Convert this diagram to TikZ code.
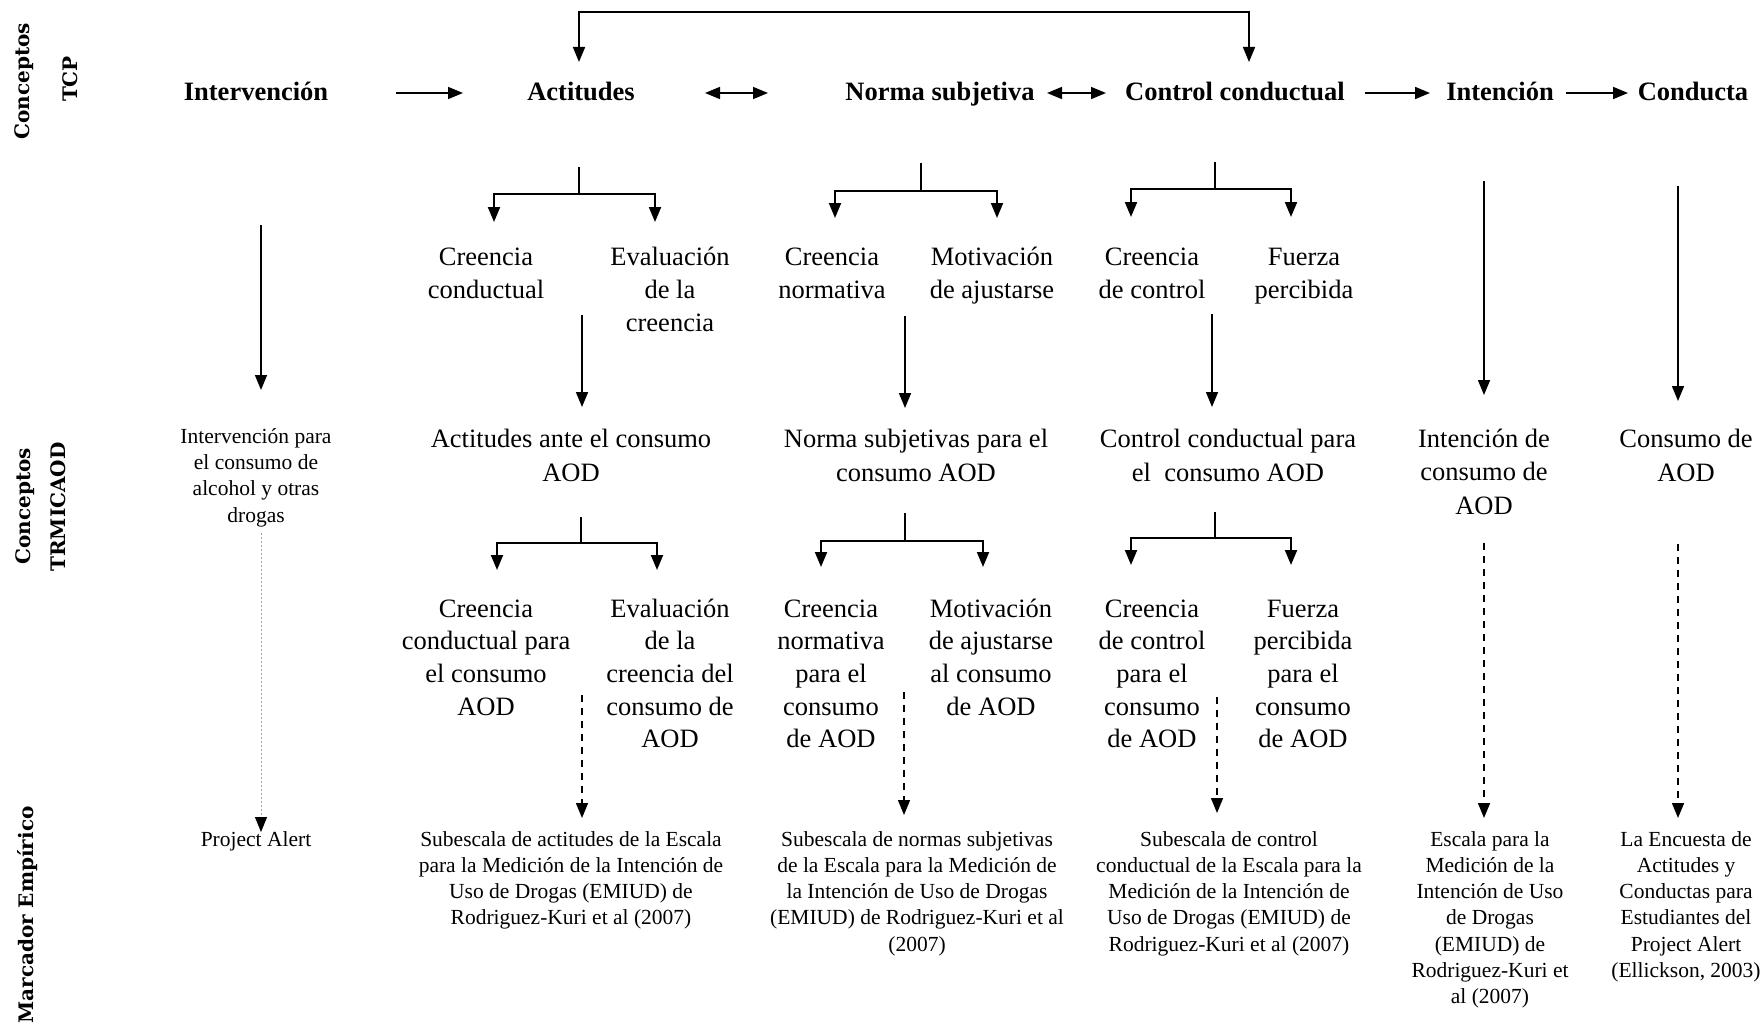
\documentclass[tikz,border=0pt]{standalone}
\usepackage{fontspec}
\setmainfont{Liberation Serif}
\newfontfamily\sidefont{DejaVu Serif}
\usetikzlibrary{arrows.meta}
\begin{document}
\begin{tikzpicture}[x=1pt,y=-1pt,
  lbl/.style={font=\fontsize{26.5}{33}\selectfont, align=center, inner sep=0pt, anchor=base},
  sml/.style={font=\fontsize{21.5}{26.3}\selectfont, align=center, inner sep=0pt, anchor=base},
  hd/.style={font=\bfseries\fontsize{26.5}{33}\selectfont, inner sep=0pt, anchor=base},
  side/.style={font=\sidefont\bfseries\fontsize{20}{24}\selectfont, rotate=90, inner sep=0pt, anchor=center},
  tip/.style={-{Triangle[length=15pt,width=12pt]}},
  ar/.style={tip, line width=1.6pt},
  dbl/.style={{Triangle[length=15pt,width=12pt]}-{Triangle[length=15pt,width=12pt]}, line width=1.6pt},
  brk/.style={tip, line width=2pt},
  dar/.style={tip, line width=1.5pt, dash pattern=on 7pt off 6pt},
  dot/.style={-{Triangle[length=15pt,width=12pt,color=black]}, line width=1pt, gray!75, dash pattern=on 2pt off 2pt}]
\useasboundingbox (0,0) rectangle (1763,1033);

% side labels
\node[side] (s1a) at (24,81) {Conceptos};
\node[side] (s1b) at (70,79) {TCP};
\node[side] (s2a) at (25,506) {Conceptos};
\node[side] (s2b) at (58,507) {TRMICAOD};
\node[side] (s3) at (28,915) {Marcador Empírico};

% top row
\node[hd] (iv) at (256,100) {Intervención};
\node[hd] (act) at (581,100) {Actitudes};
\node[hd] (ns) at (940,100) {Norma subjetiva};
\node[hd] (cc) at (1235,100) {Control conductual};
\node[hd] (int) at (1500,100) {Intención};
\node[hd] (con) at (1693,100) {Conducta};

\coordinate (h1a) at (396,93); \coordinate (h1b) at (463,93);
\coordinate (h2a) at (705,93); \coordinate (h2b) at (768,93);
\coordinate (h3a) at (1047,93); \coordinate (h3b) at (1106,93);
\coordinate (h4a) at (1365,93); \coordinate (h4b) at (1430,93);
\coordinate (h5a) at (1566,93); \coordinate (h5b) at (1628,93);
\draw[ar] (h1a) -- (h1b);
\draw[dbl] (h2a) -- (h2b);
\draw[dbl] (h3a) -- (h3b);
\draw[ar] (h4a) -- (h4b);
\draw[ar] (h5a) -- (h5b);

% top bracket
\coordinate (b1) at (579,62); \coordinate (b2) at (1249,62);
\draw[dbl] (b1) -- ++(0,-50) -| (b2);

% row 2 trees
\coordinate (t1s) at (579,167); \coordinate (t1l) at (494,222); \coordinate (t1r) at (655,222);
\draw[brk] (t1s) -- ++(0,27) -| (t1l);
\draw[brk] (t1s) -- ++(0,27) -| (t1r);
\coordinate (t2s) at (921,163); \coordinate (t2l) at (835,218); \coordinate (t2r) at (997,218);
\draw[brk] (t2s) -- ++(0,28) -| (t2l);
\draw[brk] (t2s) -- ++(0,28) -| (t2r);
\coordinate (t3s) at (1215,162); \coordinate (t3l) at (1131,217); \coordinate (t3r) at (1291,217);
\draw[brk] (t3s) -- ++(0,27) -| (t3l);
\draw[brk] (t3s) -- ++(0,27) -| (t3r);

% row 2 labels (anchor = baseline of last line)
\node[lbl] (cb) at (486,298) {Creencia\\conductual};
\node[lbl] (ec) at (670,331) {Evaluación\\de la\\creencia};
\node[lbl] (cn) at (832,298) {Creencia\\normativa};
\node[lbl] (ma) at (992,298) {Motivación\\de ajustarse};
\node[lbl] (cdc) at (1152,298) {Creencia\\de control};
\node[lbl] (fp) at (1304,298) {Fuerza\\percibida};

% long arrows
\coordinate (v1a) at (261,225); \coordinate (v1b) at (261,390);
\coordinate (v2a) at (582,315); \coordinate (v2b) at (582,407);
\coordinate (v3a) at (905,316); \coordinate (v3b) at (905,408);
\coordinate (v4a) at (1212,314); \coordinate (v4b) at (1212,407);
\coordinate (v5a) at (1484,181); \coordinate (v5b) at (1484,395);
\coordinate (v6a) at (1678,186); \coordinate (v6b) at (1678,401);
\foreach \i in {1,...,6} {\draw[ar] (v\i a) -- (v\i b);}

% row 3 labels
\node[sml] (ivp) at (256,522) {Intervención para\\el consumo de\\alcohol y otras\\drogas};
\node[lbl, font=\fontsize{26.5}{34}\selectfont] (aac) at (571,481) {Actitudes ante el consumo\\AOD};
\node[lbl, font=\fontsize{26.5}{34}\selectfont] (nsp) at (916,481) {Norma subjetivas para el\\consumo AOD};
\node[lbl, font=\fontsize{26.5}{34}\selectfont] (ccp) at (1228,481) {Control conductual para\\el\ \ consumo AOD};
\node[lbl, font=\fontsize{26.5}{33.5}\selectfont] (icd) at (1484,514) {Intención de\\consumo de\\AOD};
\node[lbl, font=\fontsize{26.5}{34}\selectfont] (cda) at (1686,481) {Consumo de\\AOD};

% row 3 trees
\coordinate (t4s) at (581,517); \coordinate (t4l) at (497,570); \coordinate (t4r) at (657,570);
\draw[brk] (t4s) -- ++(0,26) -| (t4l);
\draw[brk] (t4s) -- ++(0,26) -| (t4r);
\coordinate (t5s) at (905,513); \coordinate (t5l) at (821,567); \coordinate (t5r) at (983,567);
\draw[brk] (t5s) -- ++(0,28) -| (t5l);
\draw[brk] (t5s) -- ++(0,28) -| (t5r);
\coordinate (t6s) at (1215,512); \coordinate (t6l) at (1131,565); \coordinate (t6r) at (1291,565);
\draw[brk] (t6s) -- ++(0,26) -| (t6l);
\draw[brk] (t6s) -- ++(0,26) -| (t6r);

% row 4 labels
\begin{scope}[lbl/.append style={font=\fontsize{26.5}{32.7}\selectfont}]
\node[lbl] (cb2) at (486,715.1) {Creencia\\conductual para\\el consumo\\AOD};
\node[lbl] (ec2) at (670,747.8) {Evaluación\\de la\\creencia del\\consumo de\\AOD};
\node[lbl] (cn2) at (831,747.8) {Creencia\\normativa\\para el\\consumo\\de AOD};
\node[lbl] (ma2) at (991,715.1) {Motivación\\de ajustarse\\al consumo\\de AOD};
\node[lbl] (cdc2) at (1152,747.8) {Creencia\\de control\\para el\\consumo\\de AOD};
\node[lbl] (fp2) at (1303,747.8) {Fuerza\\percibida\\para el\\consumo\\de AOD};
\end{scope}

% dashed arrows
\coordinate (w1a) at (582,695); \coordinate (w1b) at (582,818);
\coordinate (w2a) at (904,692); \coordinate (w2b) at (904,815);
\coordinate (w3a) at (1217,697); \coordinate (w3b) at (1217,813);
\coordinate (w4a) at (1484,543); \coordinate (w4b) at (1484,818);
\coordinate (w5a) at (1678,544); \coordinate (w5b) at (1678,818);
\foreach \i in {1,...,5} {\draw[dar] (w\i a) -- (w\i b);}
\coordinate (w0a) at (261,533); \coordinate (w0b) at (261,832);
\draw[dot] (w0a) -- (w0b);

% row 5 labels
\node[sml] (pa) at (256,846) {Project Alert};
\node[sml] (m1) at (571,924.9) {Subescala de actitudes de la Escala\\para la Medición de la Intención de\\Uso de Drogas (EMIUD) de\\Rodriguez-Kuri et al (2007)};
\node[sml] (m2) at (917,951.2) {Subescala de normas subjetivas\\de la Escala para la Medición de\\la Intención de Uso de Drogas\\(EMIUD) de Rodriguez-Kuri et al\\(2007)};
\node[sml] (m3) at (1229,951.2) {Subescala de control\\conductual de la Escala para la\\Medición de la Intención de\\Uso de Drogas (EMIUD) de\\Rodriguez-Kuri et al (2007)};
\node[sml] (m4) at (1490,1003.8) {Escala para la\\Medición de la\\Intención de Uso\\de Drogas\\(EMIUD) de\\Rodriguez-Kuri et\\al (2007)};
\node[sml] (m5) at (1686,977.5) {La Encuesta de\\Actitudes y\\Conductas para\\Estudiantes del\\Project Alert\\(Ellickson, 2003)};
\end{tikzpicture}
\end{document}
